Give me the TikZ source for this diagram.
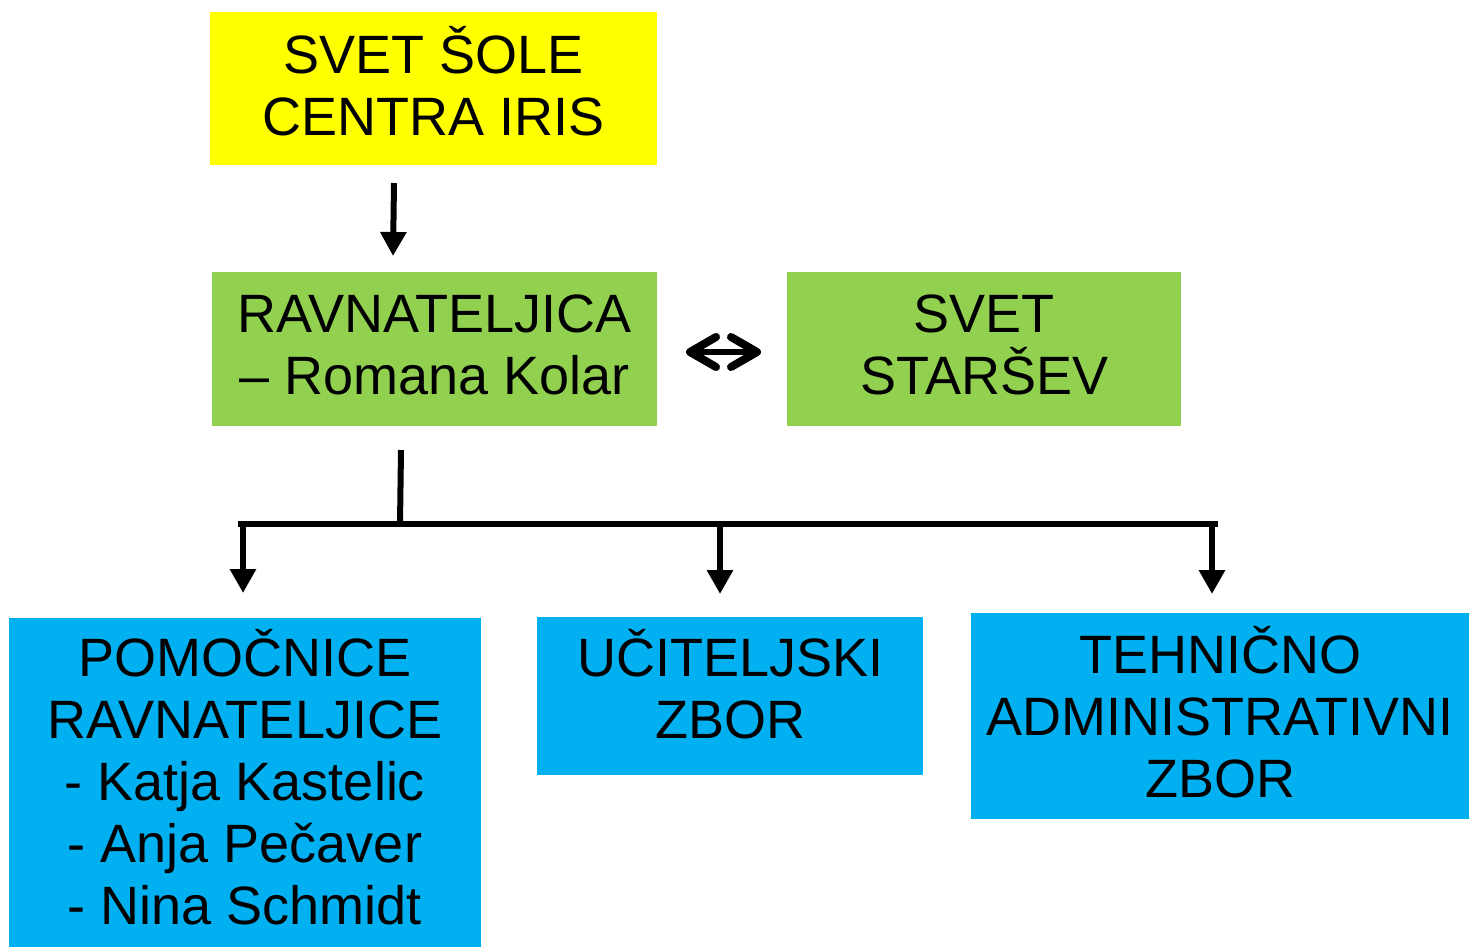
\documentclass[tikz,border=0pt]{standalone}
\usepackage{fontspec}
\setmainfont{Liberation Sans}
\usetikzlibrary{arrows.meta}
\definecolor{cyel}{HTML}{FFFF00}
\definecolor{cgrn}{HTML}{92D050}
\definecolor{cblu}{HTML}{00B0F0}
\begin{document}
\begin{tikzpicture}[x=1pt,y=-1pt,
  box/.style={rectangle, inner sep=0pt, anchor=north west, draw=none},
  txt/.style={inner sep=0pt, align=center, font=\fontsize{54}{62}\selectfont, text=black},
  conn/.style={line width=6pt, draw=black},
  tri/.style={-{Triangle[width=25pt,length=24pt]}},
  dbl/.style={{Straight Barb[round,length=26pt,width=30pt,line width=8pt]}-{Straight Barb[round,length=26pt,width=30pt,line width=8pt]}}]
\useasboundingbox (0,0) rectangle (1470,946);
\node[box, fill=cyel, minimum width=447pt, minimum height=153pt] (sole) at (210,12) {};
\node[txt, yshift=8pt] (solet) at (sole.center) {SVET ŠOLE\\CENTRA IRIS};
\node[box, fill=cgrn, minimum width=445pt, minimum height=154pt] (ravn) at (212,272) {};
\node[txt, yshift=4pt] (ravnt) at (ravn.center) {RAVNATELJICA\\– Romana Kolar};
\node[box, fill=cgrn, minimum width=394pt, minimum height=154pt] (star) at (787,272) {};
\node[txt, yshift=4pt] (start) at (star.center) {SVET\\STARŠEV};
\node[box, fill=cblu, minimum width=472pt, minimum height=340pt] (pom) at (9,618) {};
\node[txt, anchor=north] (pomt) at (245,629) {POMOČNICE\\RAVNATELJICE\\- Katja Kastelic\\- Anja Pečaver\\- Nina Schmidt};
\node[box, fill=cblu, minimum width=386pt, minimum height=158pt] (uc) at (537,617) {};
\node[txt, yshift=12pt] (uct) at (uc.center) {UČITELJSKI\\ZBOR};
\node[box, fill=cblu, minimum width=498pt, minimum height=206pt] (teh) at (971,613) {};
\node[txt, yshift=4pt] (teht) at (teh.center) {TEHNIČNO\\ADMINISTRATIVNI\\ZBOR};
% coordinates
\coordinate (a1s) at (394,183);
\coordinate (a1e) at (393,256);
\coordinate (d1) at (686,352);
\coordinate (d2) at (761,352);
\coordinate (r0) at (401,450);
\coordinate (r1) at (400,524);
\coordinate (hl) at (241,524);
\coordinate (hr) at (1215,524);
\coordinate (b1) at (243,524);
\coordinate (b1e) at (243,593);
\coordinate (b2) at (720,524);
\coordinate (b2e) at (720,594);
\coordinate (b3) at (1212,524);
\coordinate (b3e) at (1212,594);
\draw[conn, tri] (a1s) -- (a1e);
\draw[conn, dbl] (d1) -- (d2);
\draw[conn] (r0) -- (r1);
\draw[conn, line cap=rect] (hl) -- (hr);
\draw[conn, tri] (b1) -- (b1e);
\draw[conn, tri] (b2) -- (b2e);
\draw[conn, tri] (b3) -- (b3e);
\end{tikzpicture}
\end{document}
